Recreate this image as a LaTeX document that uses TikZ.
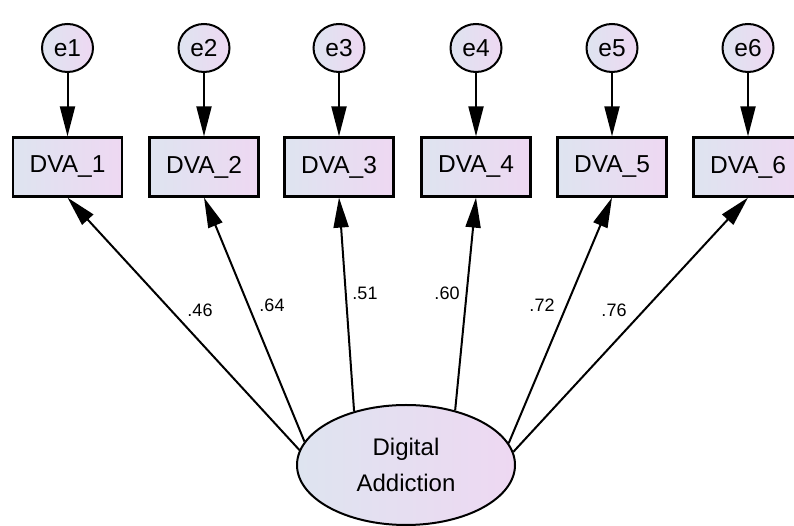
\documentclass[tikz,border=0pt]{standalone}
\usepackage{fontspec}
\setmainfont{Liberation Sans}
\usetikzlibrary{shapes.geometric,arrows.meta}
\definecolor{shadeL}{RGB}{222,228,240}
\definecolor{shadeR}{RGB}{238,216,242}
\tikzset{
  obs/.style={draw, line width=2.2pt, left color=shadeL, right color=shadeR,
    minimum width=109pt, minimum height=59pt, inner sep=0pt,
    font=\fontsize{24.5}{27}\selectfont},
  err/.style={ellipse, draw, line width=2pt, left color=shadeL, right color=shadeR,
    minimum width=51pt, minimum height=48pt, inner sep=0pt,
    font=\fontsize{24.5}{27}\selectfont},
  lat/.style={ellipse, draw, line width=2pt, left color=shadeL, right color=shadeR,
    minimum width=218pt, minimum height=120pt, inner sep=0pt, align=center,
    font=\fontsize{24}{36}\selectfont},
  path/.style={line width=2pt, -{Triangle[length=30pt,width=15pt]}},
  coef/.style={font=\fontsize{18}{20}\selectfont, inner sep=0pt}
}
\begin{document}
\begin{tikzpicture}[x=1pt,y=1pt]
\clip (0,0) rectangle (794,526);
\fill[white] (0,0) rectangle (794,526);
% observed variables
\node[obs] (v1) at (67.5,359) {DVA\_1};
\node[obs] (v2) at (204,359) {DVA\_2};
\node[obs] (v3) at (339,359) {DVA\_3};
\node[obs] (v4) at (476,359) {DVA\_4};
\node[obs] (v5) at (612,359) {DVA\_5};
\node[obs] (v6) at (748,359) {DVA\_6};
% errors
\node[err] (e1) at (67.5,478) {e1};
\node[err] (e2) at (204,478) {e2};
\node[err] (e3) at (339,478) {e3};
\node[err] (e4) at (476,478) {e4};
\node[err] (e5) at (612,478) {e5};
\node[err] (e6) at (748,478) {e6};
% latent
\node[lat] (da) at (406,61) {Digital\\Addiction};
% error paths
\foreach \i in {1,...,6} {\draw[path] (e\i) -- (v\i);}
% loadings
\draw[path] (da.172) -- (v1.south);
\draw[path] (da.167) -- (v2.south);
\draw[path] (da.134) -- (v3.south);
\draw[path] (da.48) -- (v4.south);
\draw[path] (da.12) -- (v5.south);
\draw[path] (da.7) -- (v6.south);
% coefficients
\node[coef] (c1) at (200,216) {.46};
\node[coef] (c2) at (272,221) {.64};
\node[coef] (c3) at (365,233) {.51};
\node[coef] (c4) at (447,233) {.60};
\node[coef] (c5) at (542,221) {.72};
\node[coef] (c6) at (614,216) {.76};
\end{tikzpicture}
\end{document}
